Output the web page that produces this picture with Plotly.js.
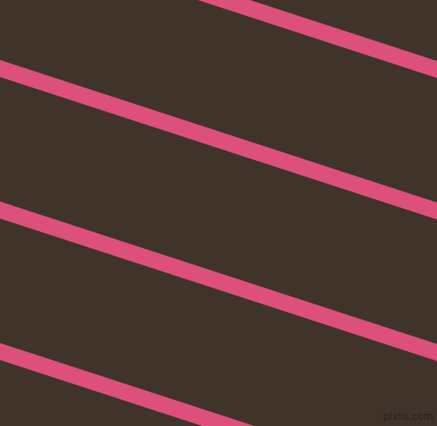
<!DOCTYPE html>
<html>
<head>
<meta charset="utf-8">
<script src="https://cdn.plot.ly/plotly-3.0.1.min.js"></script>
<style>html,body{margin:0;padding:0;background:#40342a;overflow:hidden}#chart{width:437px;height:426px}</style>
</head>
<body>
<div id="chart"></div>
<script>
// Stripe data: each stripe runs past the left and right edges of the picture
const stripeNames = ["stripe 1", "stripe 2", "stripe 3", "stripe 4"];
const stripeX = [-20, 457];
const stripeStartY = [-79.5, 62, 203.5, 345];
const stripeEndY = [76, 217.5, 359, 500.5];
const watermark = "pixlis.com";

const bg = "#40342a";
const pink = "#dd507c";

const traces = stripeNames.map((name, i) => ({
  type: "scatter",
  mode: "lines",
  name: name,
  x: stripeX,
  y: [stripeStartY[i], stripeEndY[i]],
  line: {color: pink, width: 16.2},
  hoverinfo: "skip",
  showlegend: false
}));

const layout = {
  width: 437, height: 426,
  margin: {l: 0, r: 0, t: 0, b: 0, pad: 0},
  paper_bgcolor: bg,
  plot_bgcolor: bg,
  showlegend: false,
  xaxis: {range: [0, 437], visible: false, fixedrange: true},
  yaxis: {range: [426, 0], visible: false, fixedrange: true},
  annotations: [{
    text: watermark, xref: "paper", yref: "paper", x: 0.995, y: 0.005,
    xanchor: "right", yanchor: "bottom", showarrow: false,
    font: {family: "DejaVu Sans", size: 10, color: "#2a2019"}
  }]
};

Plotly.newPlot("chart", traces, layout, {displayModeBar: false, staticPlot: true});
</script>
</body>
</html>
